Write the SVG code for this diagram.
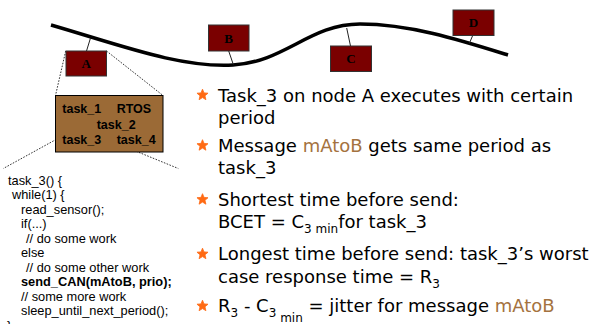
<svg xmlns="http://www.w3.org/2000/svg" xmlns:xlink="http://www.w3.org/1999/xlink" width="589" height="324" viewBox="0 0 589 324">
<style>
.node{fill:#7a0000;stroke:#333;stroke-width:1}
.nlabel{font-family:"Liberation Serif",serif;font-weight:bold;font-size:13px;fill:#000;text-anchor:middle}
.stub{stroke:#222;stroke-width:1;fill:none}
.dot{stroke:#000;stroke-width:0.8;stroke-dasharray:1.6,1.4;fill:none}
.box{fill:#9b6a36;stroke:#000;stroke-width:1}
.btxt{font-family:"Liberation Sans",Arial,sans-serif;font-weight:bold;font-size:12.5px;fill:#000}
.code{font-family:"Liberation Sans",Arial,sans-serif;font-size:12.8px;fill:#000}
.bul{font-family:"DejaVu Sans",Verdana,sans-serif;font-size:18px;fill:#000}
.sub{font-size:12px}
.hl{fill:#a47240}
.star{fill:#ff6a13;stroke:#ff6a13;stroke-width:0.8;stroke-linejoin:round}
</style>
<defs>
<path id="star" d="M0,-5.8 L1.53,-2.1 L5.52,-1.79 L2.47,0.8 L3.41,4.69 L0,2.6 L-3.41,4.69 L-2.47,0.8 L-5.52,-1.79 L-1.53,-2.1 Z"/>
</defs>

<g id="bus">
<path d="M51,25 C120,45 180,68 233,65 C285,62 310,24 360,24 C410,24 460,40 508,55" fill="none" stroke="#000" stroke-width="3.5"/>
</g>

<g id="connectors">
<line class="stub" x1="90.5" y1="38" x2="86.5" y2="51"/>
<line class="stub" x1="228.7" y1="51" x2="233.3" y2="64.5"/>
<line class="stub" x1="346.7" y1="28" x2="350.5" y2="46"/>
<line class="stub" x1="472.7" y1="35.5" x2="469.3" y2="43.5"/>
<line class="dot" x1="65.7" y1="51" x2="55.5" y2="95.5"/>
<line class="dot" x1="106.5" y1="51" x2="163" y2="95.5"/>
<line class="dot" x1="61.5" y1="136.5" x2="3.3" y2="168.5"/>
<line class="dot" x1="100" y1="136.5" x2="178.3" y2="168.5"/>
</g>

<g id="node-A">
<rect class="node" x="66" y="51" width="40.5" height="25"/>
<text class="nlabel" x="86.2" y="68">A</text>
</g>
<g id="node-B">
<rect class="node" x="208.5" y="25" width="40.5" height="26"/>
<text class="nlabel" x="228.7" y="42.5">B</text>
</g>
<g id="node-C">
<rect class="node" x="330.5" y="46" width="41" height="25.5"/>
<text class="nlabel" x="351" y="63">C</text>
</g>
<g id="node-D">
<rect class="node" x="453" y="10" width="41" height="25.5"/>
<text class="nlabel" x="473.5" y="27">D</text>
</g>

<g id="rtos-box">
<rect class="box" x="55.5" y="95.5" width="107.5" height="56.5"/>
<text class="btxt" x="62.3" y="113.3">task_1</text>
<text class="btxt" x="116.7" y="113.3">RTOS</text>
<text class="btxt" x="96.7" y="128.5">task_2</text>
<text class="btxt" x="62.3" y="144.3">task_3</text>
<text class="btxt" x="116.7" y="144.3">task_4</text>
</g>

<g id="code">
<text class="code" x="8" y="184.5">task_3() {</text>
<text class="code" x="12" y="199">while(1) {</text>
<text class="code" x="21" y="213.5">read_sensor();</text>
<text class="code" x="21" y="228">if(...)</text>
<text class="code" x="26" y="242.5">// do some work</text>
<text class="code" x="21" y="257">else</text>
<text class="code" x="26" y="271.5">// do some other work</text>
<text class="code" x="21" y="286" font-weight="bold">send_CAN(mAtoB, prio);</text>
<text class="code" x="21" y="300.5">// some more work</text>
<text class="code" x="21" y="315">sleep_until_next_period();</text>
<text class="code" x="7" y="329.5">}</text>
</g>

<g id="bullets">
<use xlink:href="#star" class="star" x="202.5" y="95"/>
<use xlink:href="#star" class="star" x="202.5" y="145.5"/>
<use xlink:href="#star" class="star" x="202.5" y="199.5"/>
<use xlink:href="#star" class="star" x="202.5" y="254"/>
<use xlink:href="#star" class="star" x="202.5" y="306"/>
<text class="bul" x="218" y="101.5">Task_3 on node A executes with certain</text>
<text class="bul" x="218" y="123.5">period</text>
<text class="bul" x="218" y="152">Message <tspan class="hl">mAtoB</tspan> gets same period as</text>
<text class="bul" x="218" y="174">task_3</text>
<text class="bul" x="218" y="205.5">Shortest time before send:</text>
<text class="bul" x="218" y="228">BCET = C<tspan class="sub" dy="5">3 min</tspan><tspan dy="-5">for task_3</tspan></text>
<text class="bul" x="218" y="260">Longest time before send: task_3’s worst</text>
<text class="bul" x="218" y="283">case response time = R<tspan class="sub" dy="5">3</tspan></text>
<text class="bul" x="218" y="312">R<tspan class="sub" dy="5">3</tspan><tspan dy="-5"> - C</tspan><tspan class="sub" dy="5">3</tspan><tspan class="sub" dy="5"> min</tspan><tspan dy="-10"> = jitter for message </tspan><tspan class="hl">mAtoB</tspan></text>
</g>
</svg>
